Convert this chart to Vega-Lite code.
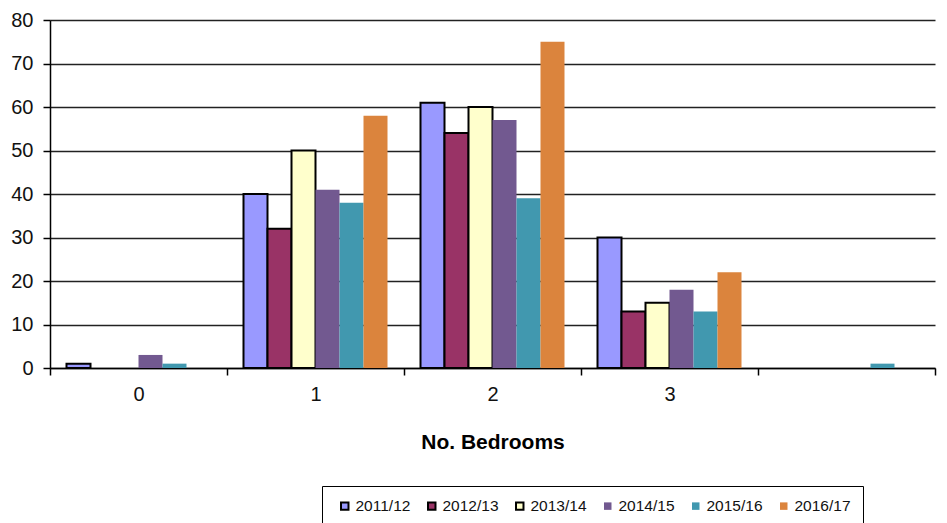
{
  "$schema": "https://vega.github.io/schema/vega-lite/v6.json",
  "autosize": {"type": "none"},
  "width": 885,
  "height": 348,
  "padding": {"left": 50, "top": 20, "right": 12, "bottom": 155},
  "background": "white",
  "config": {
    "view": {"stroke": null},
    "font": "Liberation Sans",
    "axis": {"labelFont": "Liberation Sans", "titleFont": "Liberation Sans", "labelColor": "#111", "titleColor": "#000"}
  },
  "data": {
    "values": [
      {"bedrooms": "0", "series": "2011/12", "value": 1},
      {"bedrooms": "0", "series": "2014/15", "value": 3},
      {"bedrooms": "0", "series": "2015/16", "value": 1},
      {"bedrooms": "1", "series": "2011/12", "value": 40},
      {"bedrooms": "1", "series": "2012/13", "value": 32},
      {"bedrooms": "1", "series": "2013/14", "value": 50},
      {"bedrooms": "1", "series": "2014/15", "value": 41},
      {"bedrooms": "1", "series": "2015/16", "value": 38},
      {"bedrooms": "1", "series": "2016/17", "value": 58},
      {"bedrooms": "2", "series": "2011/12", "value": 61},
      {"bedrooms": "2", "series": "2012/13", "value": 54},
      {"bedrooms": "2", "series": "2013/14", "value": 60},
      {"bedrooms": "2", "series": "2014/15", "value": 57},
      {"bedrooms": "2", "series": "2015/16", "value": 39},
      {"bedrooms": "2", "series": "2016/17", "value": 75},
      {"bedrooms": "3", "series": "2011/12", "value": 30},
      {"bedrooms": "3", "series": "2012/13", "value": 13},
      {"bedrooms": "3", "series": "2013/14", "value": 15},
      {"bedrooms": "3", "series": "2014/15", "value": 18},
      {"bedrooms": "3", "series": "2015/16", "value": 13},
      {"bedrooms": "3", "series": "2016/17", "value": 22},
      {"bedrooms": "4", "series": "2015/16", "value": 1}
    ]
  },
  "mark": {"type": "bar", "strokeWidth": 2, "strokeJoin": "miter"},
  "encoding": {
    "x": {
      "field": "bedrooms",
      "type": "nominal",
      "sort": ["0", "1", "2", "3", "4"],
      "scale": {"domain": ["0", "1", "2", "3", "4"], "paddingInner": 0, "paddingOuter": 0},
      "axis": {
        "title": "No. Bedrooms",
        "titleFontSize": 21,
        "titleFontWeight": "bold",
        "titlePadding": 27,
        "labelFontSize": 20,
        "labelAngle": 0,
        "labelPadding": 9,
        "labelExpr": "datum.value == '4' ? '' : datum.value",
        "tickBand": "extent",
        "tickSize": 7,
        "tickColor": "#000",
        "tickWidth": 1.5,
        "domainColor": "#000",
        "domainWidth": 1.5
      }
    },
    "xOffset": {
      "field": "series",
      "type": "nominal",
      "scale": {"domain": ["2011/12", "2012/13", "2013/14", "2014/15", "2015/16", "2016/17"], "paddingInner": 0, "paddingOuter": 0.6875}
    },
    "y": {
      "field": "value",
      "type": "quantitative",
      "scale": {"domain": [0, 80], "nice": false},
      "axis": {
        "title": null,
        "values": [0, 10, 20, 30, 40, 50, 60, 70, 80],
        "labelFontSize": 20,
        "labelPadding": 10,
        "tickSize": 7,
        "tickColor": "#000",
        "tickWidth": 1.5,
        "domainColor": "#000",
        "domainWidth": 1.5,
        "grid": true,
        "gridColor": "#222",
        "gridWidth": 1.3
      }
    },
    "fill": {
      "field": "series",
      "type": "nominal",
      "scale": {
        "domain": ["2011/12", "2012/13", "2013/14", "2014/15", "2015/16", "2016/17"],
        "range": ["#9999FF", "#993366", "#FFFFCC", "#725990", "#4198AF", "#DB843D"]
      },
      "legend": {
        "title": null,
        "orient": "none",
        "legendX": 272,
        "legendY": 466,
        "direction": "horizontal",
        "columns": 6,
        "columnPadding": 10,
        "symbolType": "square",
        "symbolSize": 56,
        "symbolStrokeWidth": 2,
        "symbolOffset": 3,
        "labelOffset": 3,
        "labelFontSize": 15.5,
        "labelFont": "Liberation Sans",
        "labelColor": "#111",
        "padding": 12,
        "strokeColor": "#000",
        "fillColor": "white",
        "encode": {"legend": {"update": {"width": {"value": 680}, "height": {"value": 60}}}}
      }
    },
    "stroke": {
      "field": "series",
      "type": "nominal",
      "scale": {
        "domain": ["2011/12", "2012/13", "2013/14", "2014/15", "2015/16", "2016/17"],
        "range": ["#000", "#000", "#000", "transparent", "transparent", "transparent"]
      }
    }
  }
}
